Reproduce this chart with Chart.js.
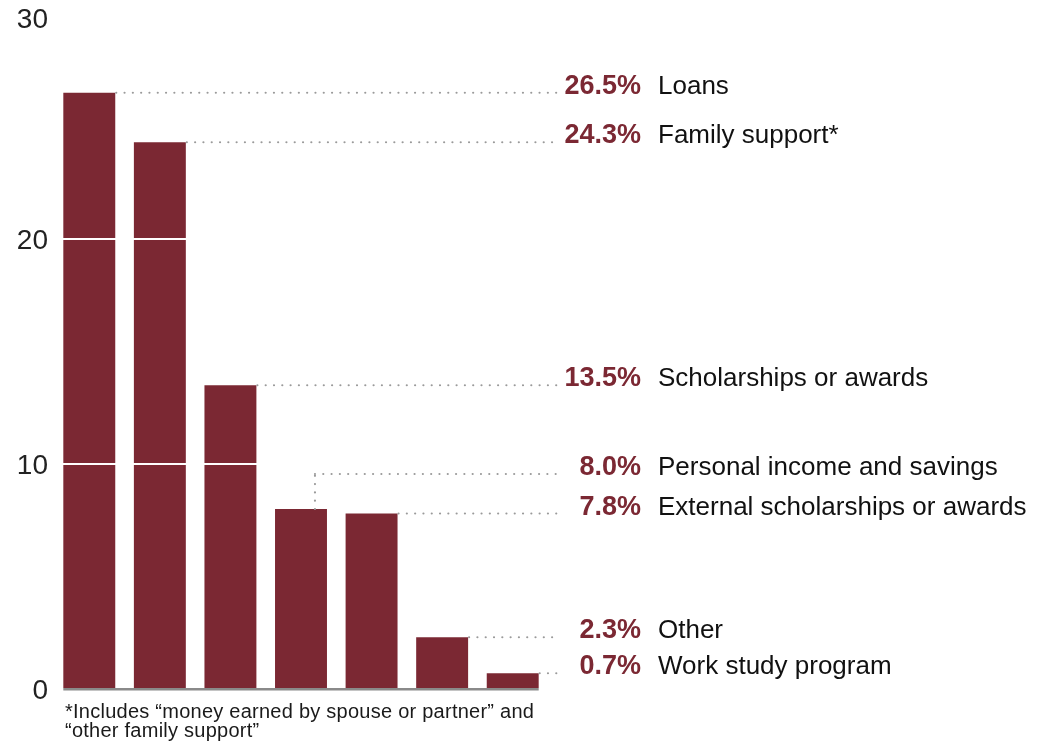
<!DOCTYPE html>
<html>
<head>
<meta charset="utf-8">
<script src="https://cdn.jsdelivr.net/npm/chart.js@4.4.1/dist/chart.umd.min.js"></script>
<style>
  html, body { margin: 0; padding: 0; background: #ffffff; }
  #wrap { width: 1040px; height: 745px; position: relative; }
</style>
</head>
<body>
<div id="wrap"><canvas id="chart"></canvas></div>
<script>
// Sources of funding, share of respondents (%)
const categories = [
  'Loans',
  'Family support*',
  'Scholarships or awards',
  'Personal income and savings',
  'External scholarships or awards',
  'Other',
  'Work study program'
];
const shares = [26.5, 24.3, 13.5, 8.0, 7.8, 2.3, 0.7];
const yTicks = [0, 10, 20, 30];
const footnoteLines = [
  '*Includes \u201cmoney earned by spouse or partner\u201d and',
  '\u201cother family support\u201d'
];

const BAR = '#7b2833';
const FONT = '"Liberation Sans", Arial, sans-serif';
const Y_MAX = 30;

// Per-label leader tweaks (pixels): the 8.0% leader climbs above its bar
// so that its label clears the 7.8% label.
const leaderNudge = { 3: { rise: 35, inset: 12 } };

const sideLabels = {
  id: 'sideLabels',
  afterDatasetsDraw(chart) {
    const ctx = chart.ctx;
    const area = chart.chartArea;
    const meta = chart.getDatasetMeta(0);
    const lineEnd = area.right + 10;
    const valueX = area.right + 93;
    const nameX = area.right + 110;

    // grey baseline under the bars
    const first = meta.data[0], last = meta.data[meta.data.length - 1];
    const y0 = chart.scales.y.getPixelForValue(0);
    ctx.save();
    ctx.fillStyle = '#8a8a8a';
    ctx.fillRect(first.x - first.width / 2, y0 - 1, (last.x + last.width / 2) - (first.x - first.width / 2), 2.5);
    ctx.restore();

    meta.data.forEach((bar, i) => {
      const nudge = leaderNudge[i];
      const right = bar.x + bar.width / 2;
      let yLine = bar.y;
      let xStart = right + 1;
      ctx.save();
      ctx.strokeStyle = '#9a9a9a';
      ctx.lineWidth = 2.2;
      ctx.lineCap = 'round';
      ctx.setLineDash([0, 8.3]);
      ctx.beginPath();
      if (nudge) {
        xStart = right - nudge.inset;
        ctx.moveTo(xStart, bar.y);
        yLine = bar.y - nudge.rise;
        ctx.lineTo(xStart, yLine);
        ctx.moveTo(xStart, yLine);
      } else {
        ctx.moveTo(xStart, yLine);
      }
      ctx.lineTo(lineEnd, yLine);
      ctx.stroke();
      ctx.restore();

      ctx.save();
      ctx.textBaseline = 'alphabetic';
      ctx.textAlign = 'right';
      ctx.fillStyle = BAR;
      ctx.font = 'bold 27px ' + FONT;
      ctx.fillText(shares[i].toFixed(1) + '%', valueX, yLine + 1);
      ctx.textAlign = 'left';
      ctx.fillStyle = '#111111';
      ctx.font = '26px ' + FONT;
      ctx.fillText(categories[i], nameX, yLine + 1);
      ctx.restore();
    });
  },
  afterDraw(chart) {
    const ctx = chart.ctx;
    ctx.save();
    ctx.fillStyle = '#1a1a1a';
    ctx.font = '20px ' + FONT;
    if ('letterSpacing' in ctx) ctx.letterSpacing = '0.25px';
    ctx.textBaseline = 'alphabetic';
    ctx.textAlign = 'left';
    footnoteLines.forEach((t, k) => ctx.fillText(t, 65, 718 + k * 19));
    ctx.restore();
  }
};

new Chart(document.getElementById('chart'), {
  type: 'bar',
  data: {
    labels: categories,
    datasets: [{
      data: shares,
      backgroundColor: BAR,
      borderWidth: 0,
      categoryPercentage: 1.0,
      barPercentage: 0.736
    }]
  },
  options: {
    responsive: true,
    maintainAspectRatio: false,
    animation: false,
    events: [],
    layout: { padding: { left: 0, right: 492, top: 14, bottom: 56 } },
    plugins: { legend: { display: false }, tooltip: { enabled: false } },
    scales: {
      x: { display: false },
      y: {
        min: 0,
        max: Y_MAX,
        afterBuildTicks(scale) { scale.ticks = yTicks.map(v => ({ value: v })); },
        afterFit(scale) {
          scale.width = 54;
          scale.paddingTop = 0;
          scale.paddingBottom = 0;
        },
        border: { display: false },
        grid: {
          z: 1,
          drawTicks: false,
          lineWidth: 2,
          color: ctx => (ctx.tick && ctx.tick.value === 0 ? 'rgba(0,0,0,0)' : '#ffffff')
        },
        ticks: {
          padding: 6,
          labelOffset: 2,
          color: '#222222',
          // the top label sits a little below its line, kept inside the canvas
          font: ctx => ({
            family: FONT,
            size: 28,
            lineHeight: ctx.tick && ctx.tick.value === Y_MAX ? 0.32 : 1
          }),
          callback: v => (v === Y_MAX ? ['', String(v)] : String(v))
        }
      }
    }
  },
  plugins: [sideLabels]
});
</script>
</body>
</html>
